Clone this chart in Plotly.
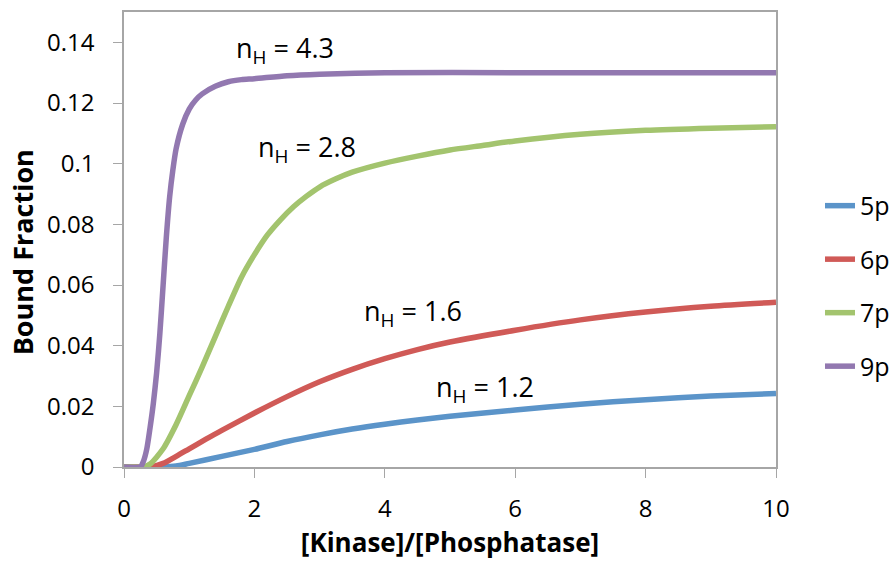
import plotly.graph_objects as go

# [Kinase]/[Phosphatase] sample points and bound fraction for each substrate
ratio_5p = [0, 0.6, 0.8, 1.0, 1.5, 2.0, 2.5, 3.0, 3.5, 4.0, 4.5, 5.0, 6.0, 7.0, 8.0, 9.0, 10.0]
bound_5p = [0, 0, 0.0003, 0.0012, 0.0035, 0.0058, 0.0084, 0.0106, 0.0125, 0.0141, 0.0155, 0.0167,
            0.0188, 0.0207, 0.0222, 0.0234, 0.0242]

ratio_6p = [0, 0.4, 0.6, 0.8, 1.0, 1.25, 1.5, 2.0, 2.5, 3.0, 3.5, 4.0, 4.5, 5.0, 6.0, 7.0, 8.0,
            9.0, 10.0]
bound_6p = [0, 0, 0.0012, 0.0035, 0.006, 0.0091, 0.0121, 0.0178, 0.0232, 0.0281, 0.0322, 0.0357,
            0.0387, 0.0412, 0.0451, 0.0485, 0.0511, 0.0530, 0.0543]

ratio_7p = [0, 0.3, 0.4, 0.6, 0.8, 1.0, 1.2, 1.4, 1.6, 1.8, 2.0, 2.2, 2.4, 2.6, 2.8, 3.0, 3.25,
            3.5, 4.0, 4.5, 5.0, 5.5, 6.0, 7.0, 8.0, 9.0, 10.0]
bound_7p = [0, 0, 0.001, 0.006, 0.014, 0.0235, 0.033, 0.043, 0.053, 0.0625, 0.070, 0.0765, 0.0815,
            0.0858, 0.0893, 0.0923, 0.0950, 0.0972, 0.1002, 0.1025, 0.1045, 0.1060, 0.1075,
            0.1097, 0.1110, 0.1117, 0.1122]

ratio_9p = [0, 0.25, 0.3, 0.35, 0.4, 0.45, 0.5, 0.55, 0.6, 0.65, 0.7, 0.75, 0.8, 0.9, 1.0, 1.1,
            1.2, 1.4, 1.6, 1.8, 2.0, 2.5, 3.0, 4.0, 6.0, 8.0, 10.0]
bound_9p = [0, 0, 0.002, 0.006, 0.013, 0.021, 0.031, 0.044, 0.060, 0.076, 0.089, 0.098, 0.105,
            0.113, 0.118, 0.121, 0.123, 0.1255, 0.127, 0.1277, 0.128, 0.129, 0.1295, 0.130,
            0.130, 0.130, 0.130]

series = [
    ("5p", ratio_5p, bound_5p, "#5B94C9"),
    ("6p", ratio_6p, bound_6p, "#D05A57"),
    ("7p", ratio_7p, bound_7p, "#A3C46E"),
    ("9p", ratio_9p, bound_9p, "#9278B0"),
]

# Hill coefficient labels placed next to their curves
hill_labels = ["4.3", "2.8", "1.6", "1.2"]
hill_x = [1.68, 2.03, 3.65, 4.75]
hill_y = [0.1378, 0.1050, 0.0508, 0.0258]

y_ticks = [0, 0.02, 0.04, 0.06, 0.08, 0.1, 0.12, 0.14]
y_tick_text = ["0", "0.02", "0.04", "0.06", "0.08", "0.1", "0.12", "0.14"]
x_ticks = [0, 2, 4, 6, 8, 10]

FONT = "Open Sans"
AXIS_GREY = "#A6A6A6"

fig = go.Figure()
for name, xs, ys, color in series:
    fig.add_trace(go.Scatter(
        x=xs, y=ys, name=name, mode="lines",
        line=dict(color=color, width=5.5, shape="spline", smoothing=0.7),
        legendgroup=name,
    ))

for txt, hx, hy in zip(hill_labels, hill_x, hill_y):
    fig.add_annotation(
        x=hx, y=hy, xref="x", yref="y",
        text=f"n<sub>H</sub> = {txt}", showarrow=False,
        xanchor="left", yanchor="middle",
        font=dict(family=FONT, size=27, color="black"),
    )

# vertical axis title, set slightly below the plot's mid-height
fig.add_annotation(
    x=-0.156, y=0.4725, xref="paper", yref="paper",
    text="<b>Bound Fraction</b>", showarrow=False, textangle=-90,
    xanchor="center", yanchor="middle",
    font=dict(family=FONT, size=27, color="black"),
)

fig.update_layout(
    width=894, height=562,
    margin=dict(l=124, r=118, t=12, b=95, autoexpand=False),
    paper_bgcolor="white", plot_bgcolor="white",
    font=dict(family=FONT, color="black"),
    showlegend=True,
    legend=dict(
        x=1.0675, y=0.398, xanchor="left", yanchor="middle",
        font=dict(family=FONT, size=25, color="black"),
        tracegroupgap=18, bgcolor="rgba(0,0,0,0)",
    ),
)

fig.update_xaxes(
    range=[0, 10], tickvals=x_ticks,
    showline=True, linecolor=AXIS_GREY, linewidth=1.5, mirror=True,
    ticks="outside", ticklen=9, tickcolor=AXIS_GREY, tickwidth=1,
    showgrid=False, zeroline=False,
    tickfont=dict(family=FONT, size=24, color="black"),
    ticklabelstandoff=10,
    title=dict(text="<b>[Kinase]/[Phosphatase]</b>", font=dict(family=FONT, size=26, color="black"),
               standoff=10),
)
fig.update_yaxes(
    range=[0, 0.15], tickvals=y_ticks, ticktext=y_tick_text,
    showline=True, linecolor=AXIS_GREY, linewidth=1.5, mirror=True,
    ticks="outside", ticklen=9, tickcolor=AXIS_GREY, tickwidth=1,
    showgrid=False, zeroline=False,
    tickfont=dict(family=FONT, size=24, color="black"),
    ticklabelstandoff=14,
)

fig.write_html("out.html")
